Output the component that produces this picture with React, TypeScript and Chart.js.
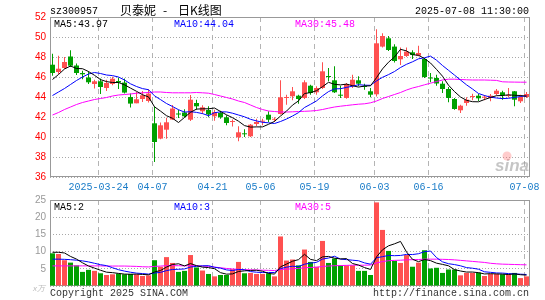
import React, { useEffect, useRef } from 'react';
import { Chart, registerables } from 'chart.js';

Chart.register(...registerables);

// ---------------- data ----------------
const dates = [
  '2025-03-12', '2025-03-13', '2025-03-14', '2025-03-17', '2025-03-18', '2025-03-19', '2025-03-20', '2025-03-21',
  '2025-03-24', '2025-03-25', '2025-03-26', '2025-03-27', '2025-03-28', '2025-03-31',
  '2025-04-01', '2025-04-02', '2025-04-03', '2025-04-07', '2025-04-08', '2025-04-09', '2025-04-10', '2025-04-11',
  '2025-04-14', '2025-04-15', '2025-04-16', '2025-04-17', '2025-04-18', '2025-04-21', '2025-04-22', '2025-04-23',
  '2025-04-24', '2025-04-25', '2025-04-28', '2025-04-29', '2025-04-30',
  '2025-05-06', '2025-05-07', '2025-05-08', '2025-05-09', '2025-05-12', '2025-05-13', '2025-05-14', '2025-05-15',
  '2025-05-16', '2025-05-19', '2025-05-20', '2025-05-21', '2025-05-22', '2025-05-23', '2025-05-26', '2025-05-27',
  '2025-05-28', '2025-05-29', '2025-05-30',
  '2025-06-03', '2025-06-04', '2025-06-05', '2025-06-06', '2025-06-09', '2025-06-10', '2025-06-11', '2025-06-12',
  '2025-06-13', '2025-06-16', '2025-06-17', '2025-06-18', '2025-06-19', '2025-06-20', '2025-06-23', '2025-06-24',
  '2025-06-25', '2025-06-26', '2025-06-27', '2025-06-30',
  '2025-07-01', '2025-07-02', '2025-07-03', '2025-07-04', '2025-07-07', '2025-07-08',
];

const opens = [
  47.23, 46.5, 46.9, 48.05, 47.15, 46.4, 45.95, 45.3, 45.57, 44.9,
  45.3, 45.6, 45.44, 44.0, 43.37, 43.8, 43.6, 41.37, 39.84, 40.73,
  41.75, 42.35, 42.45, 41.73, 43.4, 42.57, 42.7, 42.07, 42.4, 41.97,
  41.5, 39.97, 40.33, 40.07, 41.3, 41.53, 42.23, 41.72, 42.3, 43.9,
  44.07, 44.13, 43.9, 45.13, 44.47, 44.9, 46.07, 45.67, 44.23, 43.9,
  45.13, 45.67, 45.07, 44.57, 44.27, 49.04, 49.87, 49.04, 47.77, 48.1,
  48.47, 48.13, 47.8, 45.95, 45.9, 45.33, 44.8, 43.8, 42.67, 43.4,
  44.0, 44.13, 43.93, 43.9, 44.3, 44.47, 44.1, 44.57, 43.57, 44.0,
];
const closes = [
  46.4, 46.83, 47.5, 47.13, 46.4, 46.27, 45.47, 45.57, 45.0, 45.4,
  45.83, 45.45, 44.44, 43.34, 43.77, 44.17, 44.34, 39.5, 41.17, 41.47,
  42.85, 42.25, 42.07, 43.73, 43.07, 42.97, 42.25, 42.5, 41.97, 41.4,
  41.55, 40.47, 40.27, 41.23, 41.5, 41.57, 41.73, 41.75, 43.97, 43.95,
  44.57, 43.8, 45.47, 44.4, 44.9, 46.57, 46.0, 44.47, 44.13, 45.3,
  45.73, 45.33, 45.0, 44.23, 49.37, 50.1, 48.7, 47.6, 48.1, 48.54,
  48.2, 48.4, 46.0, 45.85, 45.35, 44.8, 43.9, 42.8, 43.13, 43.73,
  44.07, 43.87, 43.97, 44.13, 44.63, 44.17, 44.2, 43.73, 44.0, 44.3,
];
const highs = [
  48.33, 48.13, 48.0, 48.67, 47.35, 46.63, 46.57, 45.73, 45.84, 45.73,
  46.03, 45.95, 45.84, 44.34, 44.5, 44.6, 44.77, 43.04, 41.44, 41.93,
  43.2, 42.73, 42.77, 44.2, 43.73, 43.17, 43.07, 42.73, 42.63, 42.17,
  41.75, 41.07, 40.77, 41.3, 41.83, 41.83, 42.57, 41.97, 45.67, 44.23,
  45.0, 44.23, 45.67, 45.23, 45.07, 47.47, 46.9, 47.07, 45.13, 45.4,
  46.23, 46.07, 45.33, 44.9, 50.77, 50.37, 50.1, 49.27, 48.94, 48.94,
  48.67, 49.13, 47.9, 46.4, 46.23, 45.57, 45.0, 43.9, 43.23, 43.97,
  44.33, 44.3, 44.2, 44.3, 44.8, 44.63, 44.9, 44.6, 44.23, 44.5,
];
const lows = [
  46.13, 46.3, 46.8, 47.0, 46.2, 45.77, 45.3, 44.85, 44.3, 44.6,
  45.17, 44.8, 44.34, 42.94, 43.37, 43.5, 43.44, 37.5, 39.77, 39.83,
  41.7, 41.9, 41.95, 41.6, 42.73, 42.3, 41.97, 41.63, 41.83, 41.17,
  41.05, 39.57, 40.0, 40.0, 41.07, 41.17, 41.5, 41.5, 42.25, 43.23,
  43.67, 43.33, 43.8, 44.23, 44.23, 44.8, 45.57, 44.4, 43.9, 43.83,
  44.9, 45.07, 44.73, 43.97, 44.04, 48.94, 48.6, 47.44, 47.2, 48.0,
  47.8, 48.07, 45.9, 45.47, 45.13, 44.4, 43.47, 42.73, 42.4, 43.13,
  43.67, 43.6, 43.67, 43.57, 44.17, 43.73, 43.95, 43.07, 43.4, 43.9,
];

const ma5 = [
  45.75, 46.25, 46.8, 47.1, 46.85, 46.83, 46.55, 46.17, 45.74, 45.54,
  45.45, 45.45, 45.22, 44.89, 44.57, 44.23, 44.01, 43.02, 42.59, 42.13,
  41.87, 41.45, 41.96, 42.47, 42.79, 42.82, 42.82, 42.9, 42.55, 42.22,
  41.93, 41.58, 41.14, 40.99, 41.01, 41.01, 41.27, 41.56, 42.1, 42.59,
  43.19, 43.61, 44.35, 44.44, 44.63, 45.03, 45.47, 45.27, 45.21, 45.29,
  45.13, 44.99, 45.1, 45.12, 45.93, 46.81, 47.48, 48.0, 48.77, 48.61,
  48.23, 48.17, 47.85, 47.4, 46.76, 46.08, 45.18, 44.54, 44.0, 43.67,
  43.53, 43.52, 43.75, 43.95, 44.13, 44.15, 44.22, 44.17, 44.15, 44.08,
];
const ma10 = [
  44.15, 44.5, 44.85, 45.25, 45.65, 46.0, 46.3, 46.45, 46.35, 46.2,
  46.14, 46.0, 45.7, 45.32, 45.05, 44.84, 44.73, 44.12, 43.74, 43.35,
  43.05, 42.73, 42.49, 42.53, 42.46, 42.34, 42.13, 42.43, 42.51, 42.51,
  42.38, 42.2, 42.02, 41.77, 41.61, 41.47, 41.42, 41.35, 41.55, 41.8,
  42.1, 42.44, 42.95, 43.27, 43.61, 44.11, 44.54, 44.81, 44.83, 44.96,
  45.08, 45.23, 45.18, 45.17, 45.61, 45.97, 46.24, 46.55, 46.95, 47.27,
  47.52, 47.82, 47.92, 48.09, 47.68, 47.15, 46.67, 46.19, 45.7, 45.22,
  44.8, 44.35, 44.15, 43.98, 43.9, 43.84, 43.87, 43.96, 44.05, 44.11,
];
const ma30 = [
  42.2, 42.45, 42.75, 43.0, 43.25, 43.45, 43.6, 43.75, 43.85, 43.95,
  44.1, 44.2, 44.25, 44.3, 44.38, 44.42, 44.45, 44.5, 44.5, 44.45,
  44.42, 44.42, 44.42, 44.42, 44.45, 44.42, 44.38, 44.25, 44.1, 43.95,
  43.8, 43.6, 43.45, 43.2, 42.95, 42.75, 42.6, 42.55, 42.5, 42.5,
  42.52, 42.55, 42.57, 42.6, 42.65, 42.75, 42.88, 43.0, 43.08, 43.15,
  43.22, 43.28, 43.32, 43.42, 43.6, 43.85, 44.05, 44.25, 44.45, 44.7,
  44.9, 45.05, 45.22, 45.38, 45.55, 45.7, 45.78, 45.78, 45.75, 45.72,
  45.7, 45.7, 45.7, 45.68, 45.66, 45.52, 45.5, 45.49, 45.48, 45.48,
];

const volumes = [
  9.5, 9.3, 7.5, 6.8, 6.0, 4.1, 4.7, 4.4, 3.7, 3.2,
  3.4, 3.6, 3.4, 3.5, 3.4, 2.9, 3.1, 7.5, 5.6, 8.4,
  6.7, 4.1, 4.4, 9.0, 5.4, 4.5, 3.5, 2.8, 3.2, 3.2,
  4.9, 7.0, 3.7, 3.8, 3.5, 3.5, 3.7, 2.8, 14.4, 7.4,
  7.7, 6.0, 10.6, 7.0, 5.6, 13.1, 6.7, 8.0, 6.0, 6.0,
  6.0, 4.4, 4.4, 3.2, 24.3, 16.3, 10.2, 7.3, 6.7, 9.0,
  5.6, 6.8, 10.4, 5.1, 5.3, 3.8, 4.8, 4.8, 3.1, 3.8,
  3.8, 3.9, 2.9, 3.5, 3.5, 3.4, 3.4, 3.8, 2.3, 2.8,
];
const vma5 = [
  9.8, 9.8, 9.6, 8.6, 7.82, 6.74, 5.82, 5.2, 4.58, 4.02,
  3.88, 3.66, 3.46, 3.42, 3.46, 3.36, 3.26, 4.08, 4.5, 5.5,
  6.26, 6.46, 5.84, 6.52, 5.92, 5.48, 5.36, 5.04, 3.88, 3.44,
  3.52, 4.22, 4.4, 4.52, 4.58, 4.3, 3.64, 3.46, 5.58, 6.36,
  7.2, 7.66, 9.22, 7.74, 7.38, 8.46, 8.6, 8.08, 7.88, 7.96,
  6.54, 6.08, 5.36, 4.8, 8.46, 10.52, 11.68, 12.26, 12.96, 9.9,
  7.76, 7.08, 7.7, 7.38, 6.64, 6.28, 5.88, 4.76, 4.36, 4.06,
  4.06, 3.88, 3.5, 3.58, 3.52, 3.44, 3.34, 3.52, 3.28, 3.16,
];
const vma10 = [
  7.8, 7.8, 7.75, 7.65, 7.5, 7.3, 7.0, 6.6, 6.2, 5.92,
  5.31, 4.74, 4.33, 4.0, 3.74, 3.62, 3.46, 3.77, 3.96, 4.48,
  4.81, 4.86, 4.96, 5.51, 5.71, 5.87, 5.91, 5.44, 5.2, 4.68,
  4.5, 4.79, 4.72, 4.2, 4.01, 3.91, 3.93, 3.93, 5.05, 5.47,
  5.75, 5.65, 6.34, 6.66, 6.87, 7.83, 8.13, 8.65, 7.81, 7.67,
  7.5, 7.34, 6.72, 6.34, 8.21, 8.53, 8.88, 8.81, 8.88, 9.18,
  9.14, 9.38, 9.98, 10.17, 8.27, 7.02, 6.48, 6.23, 5.87, 5.35,
  5.17, 4.88, 4.13, 3.97, 3.79, 3.75, 3.61, 3.51, 3.43, 3.34,
];
const vma30 = [
  5.85, 5.85, 5.85, 5.85, 5.85, 5.85, 5.85, 5.85, 5.85, 5.8,
  5.8, 5.8, 5.8, 5.75, 5.7, 5.6, 5.55, 5.7, 5.8, 5.9,
  5.9, 5.9, 5.85, 5.95, 5.9, 5.8, 5.7, 5.5, 5.3, 5.1,
  4.95, 4.85, 4.75, 4.7, 4.65, 4.6, 4.55, 4.5, 4.8, 4.9,
  5.0, 5.1, 5.3, 5.4, 5.45, 5.7, 5.8, 5.9, 5.95, 6.0,
  6.05, 6.05, 6.05, 6.1, 6.7, 7.1, 7.35, 7.45, 7.5, 7.6,
  7.65, 7.7, 7.8, 7.8, 7.8, 7.75, 7.7, 7.6, 7.45, 7.3,
  7.15, 7.0, 6.85, 6.6, 6.45, 6.35, 6.3, 6.25, 6.2, 6.15,
];

const tickDates = ['2025-03-24', '2025-04-07', '2025-04-21', '2025-05-06', '2025-05-19', '2025-06-03', '2025-06-16', '2025-07-08'];
const tickLabels = ['2025-03-24', '04-07', '04-21', '05-06', '05-19', '06-03', '06-16', '07-08'];

const priceLegend = ['MA5:43.97', 'MA10:44.04', 'MA30:45.48'];
const volLegend = ['MA5:2', 'MA10:3', 'MA30:5'];

// ---------------- style ----------------
const UP = '#ff5050';
const DOWN = '#00a000';
const MONO = "'Liberation Mono', 'DejaVu Sans Mono', monospace";
const SANS = "'Liberation Sans', Arial, sans-serif";
const X_MIN = -2.5 / 6;
const X_MAX = X_MIN + 80;

const candleColors = closes.map((c, i) => (c >= opens[i] ? UP : DOWN));

const setXTicks = (scale: any) => {
  scale.ticks = tickDates.map((d) => ({ value: dates.indexOf(d) - 1 / 3 }));
};

const framePlugin = {
  id: 'frame',
  beforeDatasetsDraw(chart: any) {
    const { ctx, chartArea: a } = chart;
    ctx.save();
    ctx.strokeStyle = '#999';
    ctx.lineWidth = 1;
    ctx.strokeRect(a.left + 0.5, a.top + 0.5, a.right - a.left - 1, a.bottom - a.top - 1);
    ctx.restore();
  },
};

const lineDs = (label: string, arr: number[], color: string, order: number) => ({
  type: 'line' as const,
  label,
  data: arr.map((y, i) => ({ x: i, y })),
  borderColor: color,
  borderWidth: 1,
  pointRadius: 0,
  tension: 0,
  order,
});

const xScaleBase = (showTicks: boolean, height: number) => ({
  type: 'linear' as const,
  offset: false,
  min: X_MIN,
  max: X_MAX,
  afterBuildTicks: setXTicks,
  afterFit: (s: any) => {
    s.height = height;
  },
  grid: { color: '#b4b4b4', lineWidth: 1, drawTicks: false, offset: false },
  border: { display: false, dash: [5, 4] },
  ticks: {
    display: showTicks,
    autoSkip: false,
    maxRotation: 0,
    minRotation: 0,
    padding: 4,
    color: '#1a7cc8',
    font: { family: MONO, size: 10 },
    callback: (_v: any, idx: number) => tickLabels[idx],
  },
});

function priceConfig(): any {
  const textPlugin = {
    id: 'priceText',
    beforeDatasetsDraw(chart: any) {
      const { ctx } = chart;
      ctx.save();
      ctx.font = `italic bold 17px ${SANS}`;
      ctx.fillStyle = 'rgba(150,150,150,0.55)';
      ctx.textBaseline = 'alphabetic';
      ctx.fillText('sina', 495, 171);
      ctx.fillStyle = 'rgba(255,110,110,0.35)';
      ctx.beginPath();
      ctx.arc(507, 156, 4.5, 0, Math.PI * 2);
      ctx.fill();
      ctx.restore();
    },
    afterDraw(chart: any) {
      const { ctx } = chart;
      ctx.save();
      ctx.textBaseline = 'middle';
      ctx.font = `10px ${MONO}`;
      ctx.fillStyle = '#000';
      ctx.textAlign = 'left';
      ctx.fillText('sz300957', 50, 11);
      ctx.textAlign = 'right';
      ctx.fillText('2025-07-08 11:30:00', 529, 11);
      ctx.textAlign = 'left';
      ctx.font = `12px 'Noto Sans CJK SC', sans-serif`;
      ctx.fillText('贝泰妮', 120, 10);
      ctx.fillText('-', 163, 10);
      ctx.fillText('日K线图', 178, 10);
      ctx.font = `10px ${MONO}`;
      ctx.fillStyle = '#000';
      ctx.fillText(priceLegend[0], 54, 24);
      ctx.fillStyle = '#0000ff';
      ctx.fillText(priceLegend[1], 174, 24);
      ctx.fillStyle = '#ff00ff';
      ctx.fillText(priceLegend[2], 295, 24);
      ctx.restore();
    },
  };
  return {
    type: 'bar',
    data: {
      datasets: [
        lineDs('MA5', ma5, '#000000', 0),
        lineDs('MA10', ma10, '#0000ff', 1),
        lineDs('MA30', ma30, '#ff00ff', 2),
        {
          type: 'bar',
          label: 'body',
          data: opens.map((o, i) => ({ x: i, y: [o, closes[i]] })),
          backgroundColor: candleColors,
          borderWidth: 0,
          barThickness: 5,
          grouped: false,
          minBarLength: 1,
          inflateAmount: 0,
          order: 3,
        },
        {
          type: 'bar',
          label: 'wick',
          data: lows.map((l, i) => ({ x: i, y: [l, highs[i]] })),
          backgroundColor: candleColors,
          borderWidth: 0,
          barThickness: 1,
          grouped: false,
          inflateAmount: 0,
          order: 4,
        },
      ],
    },
    options: {
      animation: false,
      responsive: false,
      maintainAspectRatio: false,
      events: [],
      layout: { padding: { left: 0, right: 15, top: 17, bottom: 103 } },
      plugins: { legend: { display: false }, tooltip: { enabled: false } },
      scales: {
        x: xScaleBase(true, 20),
        y: {
          min: 36,
          max: 52,
          afterFit: (s: any) => {
            s.width = 50;
          },
          grid: { color: '#a8a8a8', drawTicks: false },
          border: { display: false, dash: [1, 2] },
          ticks: { stepSize: 2, color: '#ff0000', padding: 4, font: { family: SANS, size: 10 } },
        },
      },
    },
    plugins: [framePlugin, textPlugin],
  };
}

function volConfig(): any {
  const volColors = candleColors;
  const textPlugin = {
    id: 'volText',
    afterDraw(chart: any) {
      const { ctx } = chart;
      ctx.save();
      ctx.textBaseline = 'middle';
      ctx.textAlign = 'left';
      ctx.font = `10px ${MONO}`;
      ctx.fillStyle = '#000';
      ctx.fillText(volLegend[0], 54, 207);
      ctx.fillStyle = '#0000ff';
      ctx.fillText(volLegend[1], 174, 207);
      ctx.fillStyle = '#ff00ff';
      ctx.fillText(volLegend[2], 295, 207);
      ctx.fillStyle = '#333';
      ctx.fillText('Copyright 2025 SINA.COM', 50, 293);
      ctx.textAlign = 'right';
      ctx.fillText('http://finance.sina.com.cn', 529, 293);
      ctx.fillStyle = '#bbb';
      ctx.font = `italic 8px ${SANS}`;
      ctx.fillText('x万', 45, 289);
      ctx.restore();
    },
  };
  return {
    type: 'bar',
    data: {
      datasets: [
        lineDs('VMA5', vma5, '#000000', 0),
        lineDs('VMA10', vma10, '#0000ff', 1),
        lineDs('VMA30', vma30, '#ff00ff', 2),
        {
          type: 'bar',
          label: 'volume',
          data: volumes.map((v, i) => ({ x: i, y: v })),
          backgroundColor: volColors,
          borderWidth: 0,
          barThickness: 5,
          grouped: false,
          inflateAmount: 0,
          order: 3,
        },
      ],
    },
    options: {
      animation: false,
      responsive: false,
      maintainAspectRatio: false,
      events: [],
      layout: { padding: { left: 0, right: 15, top: 200, bottom: 14 } },
      plugins: { legend: { display: false }, tooltip: { enabled: false } },
      scales: {
        x: xScaleBase(false, 0),
        y: {
          min: 0,
          max: 25,
          afterFit: (s: any) => {
            s.width = 50;
          },
          grid: { color: '#a8a8a8', drawTicks: false },
          border: { display: false, dash: [1, 2] },
          ticks: {
            stepSize: 5,
            color: '#999',
            padding: 4,
            font: { family: SANS, size: 10 },
            callback: (v: any) => (v === 0 ? '' : String(v)),
          },
        },
      },
    },
    plugins: [framePlugin, textPlugin],
  };
}

export default function App() {
  const priceRef = useRef<HTMLCanvasElement>(null);
  const volRef = useRef<HTMLCanvasElement>(null);

  useEffect(() => {
    const pc = new Chart(priceRef.current as HTMLCanvasElement, priceConfig());
    const vc = new Chart(volRef.current as HTMLCanvasElement, volConfig());
    return () => {
      pc.destroy();
      vc.destroy();
    };
  }, []);

  return (
    <div style={{ position: 'fixed', left: 0, top: 0, width: 545, height: 300, background: '#fff' }}>
      <canvas ref={priceRef} width={545} height={300} style={{ position: 'absolute', left: 0, top: 0 }} />
      <canvas ref={volRef} width={545} height={300} style={{ position: 'absolute', left: 0, top: 0 }} />
    </div>
  );
}
